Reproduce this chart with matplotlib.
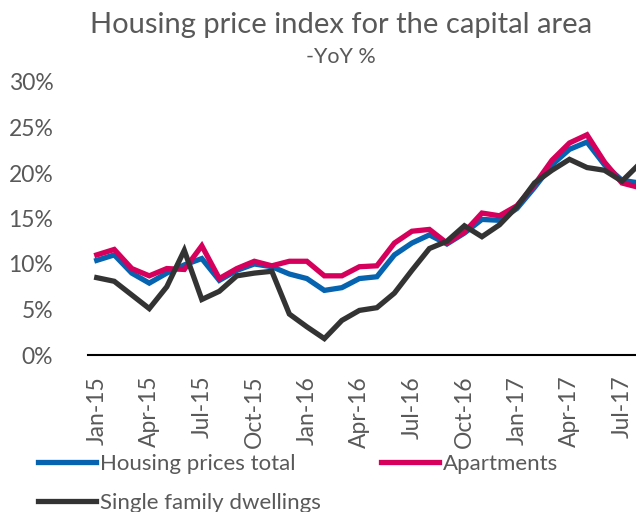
import matplotlib
matplotlib.use("Agg")
import matplotlib.pyplot as plt
from matplotlib.ticker import FuncFormatter

plt.rcParams["font.family"] = ["Lato", "DejaVu Sans"]

# monthly YoY changes (%), Jan-15 .. Aug-17
months = ["Jan-15", "Feb-15", "Mar-15", "Apr-15", "May-15", "Jun-15", "Jul-15", "Aug-15",
          "Sep-15", "Oct-15", "Nov-15", "Dec-15", "Jan-16", "Feb-16", "Mar-16", "Apr-16",
          "May-16", "Jun-16", "Jul-16", "Aug-16", "Sep-16", "Oct-16", "Nov-16", "Dec-16",
          "Jan-17", "Feb-17", "Mar-17", "Apr-17", "May-17", "Jun-17", "Jul-17", "Aug-17"]
total = [10.4, 11.0, 9.0, 7.9, 9.0, 9.9, 10.6, 8.2, 9.3, 10.0, 9.7, 8.9, 8.4, 7.1, 7.4, 8.4,
         8.6, 11.0, 12.3, 13.2, 12.2, 13.4, 14.9, 14.8, 16.1, 18.4, 20.9, 22.6, 23.4, 20.9, 19.2, 18.9]
apartments = [11.0, 11.6, 9.5, 8.7, 9.5, 9.4, 12.0, 8.4, 9.5, 10.3, 9.8, 10.3, 10.3, 8.7, 8.7, 9.7,
              9.8, 12.3, 13.6, 13.8, 12.3, 13.5, 15.6, 15.3, 16.4, 18.7, 21.4, 23.3, 24.2, 21.2, 18.9, 18.4]
single_family = [8.5, 8.1, 6.6, 5.1, 7.5, 11.5, 6.1, 7.0, 8.7, 9.0, 9.2, 4.5, 3.1, 1.8, 3.8, 4.9,
                 5.2, 6.8, 9.3, 11.7, 12.5, 14.2, 13.0, 14.3, 16.3, 18.9, 20.3, 21.5, 20.6, 20.3, 19.1, 21.0]
yticks = [0, 5, 10, 15, 20, 25, 30]

grey = "#595959"
W, H = 636, 512
fig = plt.figure(figsize=(W / 100, H / 100), dpi=100)
ax = fig.add_axes([88 / W, 1 - 355 / H, (636 - 88) / W, (355 - 82) / H])

x = list(range(len(months)))
l1, = ax.plot(x, total, color="#0563AF", lw=3.8, solid_joinstyle="miter", label="Housing prices total")
l2, = ax.plot(x, apartments, color="#D6005C", lw=3.8, solid_joinstyle="miter", label="Apartments")
l3, = ax.plot(x, single_family, color="#333333", lw=3.8, solid_joinstyle="miter", label="Single family dwellings")

ax.set_xlim(-0.5, 30.8)
ax.set_ylim(0, 30)
ax.set_yticks(yticks)
ax.yaxis.set_major_formatter(FuncFormatter(lambda v, p: f"{v:.0f}%"))
ax.set_xticks(x[::3])
ax.set_xticklabels(months[::3], rotation=90)
for s in ["top", "right", "left"]:
    ax.spines[s].set_visible(False)
ax.spines["bottom"].set_linewidth(1.5)
ax.tick_params(axis="y", length=0, pad=25, labelsize=16.5, labelcolor=grey)
ax.tick_params(axis="x", length=0, pad=15, labelsize=16.5, labelcolor=grey)

fig.text(341 / W, 1 - 25 / H, "Housing price index for the capital area", ha="center", va="center",
         fontsize=21, color=grey)
fig.text(341 / W, 1 - 57 / H, "-YoY %", ha="center", va="center", fontsize=15.5, color=grey)

# column-major fill: [total, single] in col 1, [apartments] in col 2
fig.legend([l1, l3, l2], [l1.get_label(), l3.get_label(), l2.get_label()],
           loc="upper left", bbox_to_anchor=(38 / W, 1 - 454 / H), ncol=2, frameon=False,
           fontsize=16, handlelength=2.6, handletextpad=0.2, columnspacing=2.7, labelspacing=0.85,
           labelcolor=grey, borderpad=0, borderaxespad=0)

fig.savefig("out.png", dpi=100)
